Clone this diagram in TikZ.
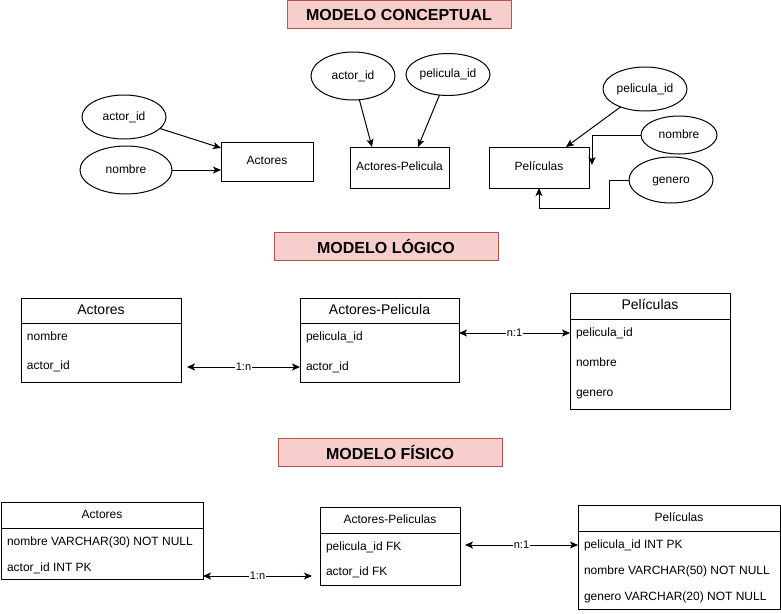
\documentclass[tikz,border=0pt]{standalone}
\usepackage{fontspec}
\setmainfont{Liberation Sans}
\usetikzlibrary{arrows.meta,shapes.geometric,calc}
\definecolor{titlefill}{HTML}{F8CECC}
\definecolor{titleborder}{HTML}{B85450}
\begin{document}
\begin{tikzpicture}[x=1pt,y=-1pt,
  every node/.style={inner sep=0pt, outer sep=0pt},
  fixtext/.style={text height=8.8, text depth=2.5},
  titlebox/.style={draw=titleborder, fill=titlefill, line width=1pt, minimum width=224, minimum height=28, font=\fontsize{16}{19}\selectfont\bfseries},
  attr/.style={draw, ellipse, line width=1pt, font=\fontsize{12}{14}\selectfont, fixtext},
  ent/.style={draw, line width=1pt, font=\fontsize{12}{14}\selectfont, fixtext},
  tbl/.style={draw, line width=1pt, anchor=north west},
  hdrbig/.style={font=\fontsize{14}{17}\selectfont, text height=10.2, text depth=3},
  hdrsmall/.style={font=\fontsize{12}{14}\selectfont, fixtext},
  rowtext/.style={anchor=west, font=\fontsize{12}{14}\selectfont, fixtext},
  conn/.style={line width=1pt, -{Stealth[length=8pt,width=7pt,inset=2pt]}},
  both/.style={line width=1pt, {Stealth[length=8pt,width=7pt,inset=2pt]}-{Stealth[length=8pt,width=7pt,inset=2pt]}},
  elabel/.style={fill=white, font=\fontsize{11}{13}\selectfont, inner sep=0.5pt, text height=8, text depth=2},
]
\useasboundingbox (0,0) rectangle (781,613);

% ---------------- Conceptual model ----------------
\node[titlebox] (t1) at (399,14.5) {MODELO CONCEPTUAL};

\node[attr, minimum width=84, minimum height=44] (ca1) at (124,117) {actor\_id};
\node[attr, minimum width=92, minimum height=48] (ca2) at (126,170) {nombre};
\node[ent, minimum width=92, minimum height=39] (ce1) at (267,161.5) {Actores};

\node[attr, minimum width=84, minimum height=48] (cb1) at (353,76) {actor\_id};
\node[attr, minimum width=84, minimum height=42] (cb2) at (448,74.5) {pelicula\_id};
\node[ent, minimum width=99, minimum height=41] (ce2) at (399.5,167.5) {Actores-Pelicula};

\node[ent, minimum width=100, minimum height=41] (ce3) at (539,167.5) {Películas};
\node[attr, minimum width=84, minimum height=44] (cc1) at (645,89) {pelicula\_id};
\node[attr, minimum width=76, minimum height=38] (cc2) at (679,135) {nombre};
\node[attr, minimum width=84, minimum height=46] (cc3) at (671,180) {genero};

\draw[conn] (ca1) -- ($(ce1.north west)+(0,6)$);
\draw[conn] (ca2.east) -- (ca2.east -| ce1.west);
\draw[conn] (cb1) -- ($(ce2.north west)+(22,0)$);
\draw[conn] (cb2) -- ($(ce2.north west)+(68,0)$);
\draw[conn] (cc1) -- ($(ce3.north west)+(77,0)$);
\draw[conn] (cc2.west) -| ($(ce3.north east)+(3,18)$);
\draw[conn] (cc3.west) -- ++(-20,0) |- ($(ce3.south)+(0,20)$) -- (ce3.south);

% ---------------- Logical model ----------------
\node[titlebox] (t2) at (386,246) {MODELO LÓGICO};

\node[tbl, minimum width=160, minimum height=84] (lA) at (21,298) {};
\node[hdrbig] (lAh) at ($(lA.north)+(0,12.5)$) {Actores};
\draw[line width=1pt] ($(lA.north west)+(0,25)$) -- ($(lA.north east)+(0,25)$);
\node[rowtext] (lA1) at ($(lA.north west)+(6,39)$) {nombre};
\node[rowtext] (lA2) at ($(lA.north west)+(6,68)$) {actor\_id};

\node[tbl, minimum width=159, minimum height=84] (lB) at (300,298) {};
\node[hdrbig] (lBh) at ($(lB.north)+(0,12.5)$) {Actores-Pelicula};
\draw[line width=1pt] ($(lB.north west)+(0,25)$) -- ($(lB.north east)+(0,25)$);
\node[rowtext] (lB1) at ($(lB.north west)+(6,39)$) {pelicula\_id};
\node[rowtext] (lB2) at ($(lB.north west)+(6,69)$) {actor\_id};

\node[tbl, minimum width=160, minimum height=116] (lC) at (570,293) {};
\node[hdrbig] (lCh) at ($(lC.north)+(0,13)$) {Películas};
\draw[line width=1pt] ($(lC.north west)+(0,26)$) -- ($(lC.north east)+(0,26)$);
\node[rowtext] (lC1) at ($(lC.north west)+(6,40)$) {pelicula\_id};
\node[rowtext] (lC2) at ($(lC.north west)+(6,70)$) {nombre};
\node[rowtext] (lC3) at ($(lC.north west)+(6,100)$) {genero};

\draw[both] ($(lA.east |- lB2)+(6,0)$) -- node[elabel] {1:n} (lB2 -| lB.west);
\draw[both] (lB.east |- lC1) -- node[elabel] {n:1} (lC1 -| lC.west);

% ---------------- Physical model ----------------
\node[titlebox] (t3) at (390,452) {MODELO FÍSICO};

\node[tbl, minimum width=202, minimum height=77] (pA) at (1,502) {};
\node[hdrsmall] (pAh) at ($(pA.north)+(0,13)$) {Actores};
\draw[line width=1pt] ($(pA.north west)+(0,26)$) -- ($(pA.north east)+(0,26)$);
\node[rowtext] (pA1) at ($(pA.north west)+(6,40)$) {nombre VARCHAR(30) NOT NULL};
\node[rowtext] (pA2) at ($(pA.north west)+(6,66)$) {actor\_id INT PK};

\node[tbl, minimum width=140, minimum height=78] (pB) at (320,507) {};
\node[hdrsmall] (pBh) at ($(pB.north)+(0,13)$) {Actores-Peliculas};
\draw[line width=1pt] ($(pB.north west)+(0,26)$) -- ($(pB.north east)+(0,26)$);
\node[rowtext] (pB1) at ($(pB.north west)+(6,40)$) {pelicula\_id FK};
\node[rowtext] (pB2) at ($(pB.north west)+(6,65)$) {actor\_id FK};

\node[tbl, minimum width=202, minimum height=104] (pC) at (578,505) {};
\node[hdrsmall] (pCh) at ($(pC.north)+(0,13)$) {Películas};
\draw[line width=1pt] ($(pC.north west)+(0,26)$) -- ($(pC.north east)+(0,26)$);
\node[rowtext] (pC1) at ($(pC.north west)+(6,40)$) {pelicula\_id INT PK};
\node[rowtext] (pC2) at ($(pC.north west)+(6,66)$) {nombre VARCHAR(50) NOT NULL};
\node[rowtext] (pC3) at ($(pC.north west)+(6,92)$) {genero VARCHAR(20) NOT NULL};

\draw[both] ($(pA.south east)+(0,-3)$) -- node[elabel] {1:n} ($(pB.west |- pA.south east)+(-8,-3)$);
\draw[both] ($(pB.east |- pC1)+(5,0)$) -- node[elabel] {n:1} (pC1 -| pC.west);
\end{tikzpicture}
\end{document}
